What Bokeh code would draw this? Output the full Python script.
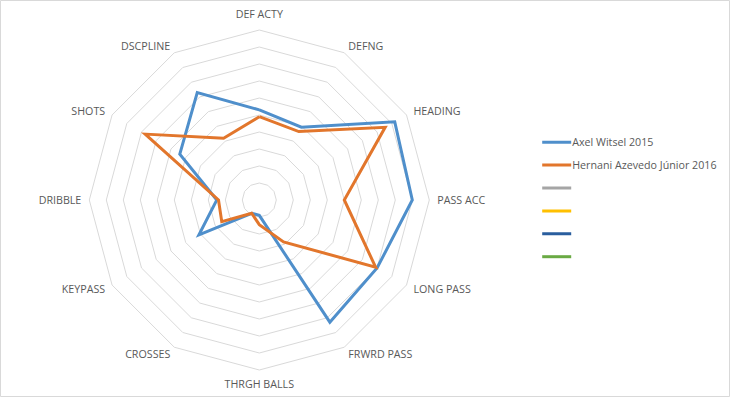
import numpy as np
from bokeh.plotting import figure
from bokeh.models import Range1d
from bokeh.core.properties import value
from bokeh.embed import file_html
from bokeh.resources import INLINE

# ---------------- data ----------------
categories = ["DEF ACTY", "DEFNG", "HEADING", "PASS ACC", "LONG PASS", "FRWRD PASS",
              "THRGH BALLS", "CROSSES", "KEYPASS", "DRIBBLE", "SHOTS", "DSCPLINE"]
witsel_2015 = [5.3, 4.95, 9.2, 9.0, 8.0, 8.3, 0.9, 0.9, 4.1, 2.5, 5.4, 7.3]
hernani_2016 = [4.9, 4.65, 8.55, 5.0, 7.9, 2.85, 1.45, 0.9, 2.55, 2.4, 7.75, 4.2]
series_names = ["Axel Witsel 2015", "Hernani Azevedo Júnior 2016", "", "", "", ""]
series_colors = ["#4F8FCB", "#E2762C", "#A5A5A5", "#FFC000", "#2A5E9E", "#6AAA44"]
ring_values = list(range(1, 11))
max_value = 10

# ---------------- layout constants ----------------
W, H = 730, 397
OX, OY = 0, 0                   # page offset of the figure
CX, CY = 258.8, 199.5          # page position of radar centre
R = 170.0                       # outer ring radius (px)
scale = R / max_value
FONT = "Open Sans"
FS = "10.7px"
TXT = "#595959"

p = figure(width=W, height=H, output_backend="svg", toolbar_location=None,
           x_range=Range1d(OX - CX, OX + W - CX), y_range=Range1d(CY - OY - H, CY - OY),
           min_border=0, background_fill_color="white", border_fill_color="white")
p.axis.visible = False
p.grid.visible = False
p.outline_line_color = "#D9D9D9"
p.outline_line_width = 1

n = len(categories)
angles = np.pi / 2 - np.arange(n) * 2 * np.pi / n

# rings
xs, ys = [], []
for rv in ring_values:
    rr = rv * scale
    xs.append(list(rr * np.cos(angles)) + [rr * np.cos(angles[0])])
    ys.append(list(rr * np.sin(angles)) + [rr * np.sin(angles[0])])
p.multi_line(xs, ys, line_color="#D9D9D9", line_width=1)

# category labels
for name, a in zip(categories, angles):
    deg = round(np.degrees(a)) % 360
    lr = R + 8
    if deg == 90:
        al, bl = "center", "bottom"
        lr = R + 9.5
    elif deg == 270:
        al, bl = "center", "top"
        lr = R + 6.5
    elif deg < 90 or deg > 270:
        al, bl = "left", "middle"
    else:
        al, bl = "right", "middle"
    x, y = lr * np.cos(a), lr * np.sin(a)
    p.text(x=[x], y=[y], text=[name], text_align=al, text_baseline=bl,
           text_font=value(FONT), text_font_size=FS, text_color=TXT)

# series
for vals, col in [(witsel_2015, series_colors[0]), (hernani_2016, series_colors[1])]:
    v = np.array(vals + [vals[0]]) * scale
    a = np.append(angles, angles[0])
    p.line(v * np.cos(a), v * np.sin(a), line_color=col, line_width=3, line_join="miter")

# legend (manual)
lx0, lx1 = 541.7 - CX, 570.7 - CX
ly0, ldy = 141.7, 22.9
for i, (nm, col) in enumerate(zip(series_names, series_colors)):
    yy = CY - (ly0 + i * ldy)
    p.line([lx0, lx1], [yy, yy], line_color=col, line_width=3)
    if nm:
        p.text(x=[lx1 + 1], y=[yy], text=[nm], text_align="left", text_baseline="middle",
               text_font=value(FONT), text_font_size=FS, text_color=TXT)

open("out.html", "w").write(file_html(p, INLINE))
